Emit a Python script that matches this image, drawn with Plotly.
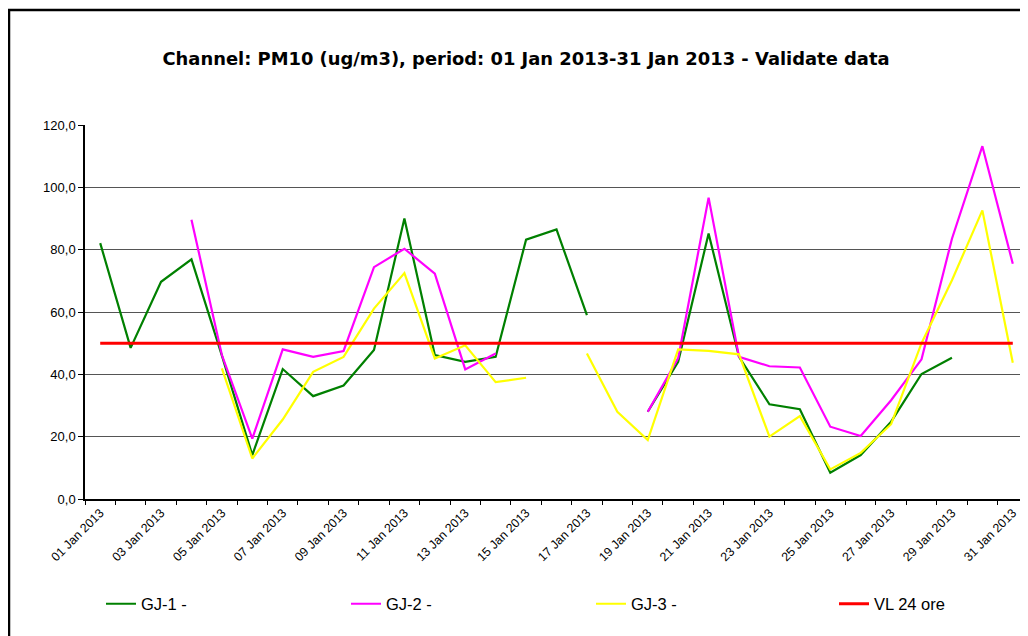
import plotly.graph_objects as go

days = [f"2013-01-{d:02d}" for d in range(1, 32)]

gj1 = [82.1, 48.5, 69.7, 76.9, 46.0, 14.1, 41.7, 33.0, 36.4, 47.8,
       90.0, 46.2, 44.0, 45.6, 83.2, 86.5, 59.0, None, 28.0, 44.0,
       85.2, 45.6, 30.4, 28.8, 8.4, 14.1, 24.8, 40.1, 45.3, None, None]
gj2 = [None, None, None, 89.6, 46.2, 19.4, 48.0, 45.6, 47.5, 74.4,
       80.3, 72.3, 41.6, 46.7, None, None, None, None, 28.0, 45.2,
       96.7, 45.6, 42.6, 42.2, 23.2, 20.2, 31.7, 44.8, 83.5, 113.2, 75.5]
gj3 = [None, None, None, None, 41.9, 13.0, 25.5, 40.8, 45.6, 61.1,
       72.5, 45.1, 49.3, 37.5, 38.9, None, 46.7, 28.0, 18.9, 48.0,
       47.5, 46.4, 20.0, 26.6, 9.5, 14.8, 24.0, 50.0, 70.2, 92.6, 43.7]
vl = [50.0] * 31

names = ["GJ-1 -", "GJ-2 -", "GJ-3 -", "VL 24 ore"]
colors = ["#008000", "#FF00FF", "#FFFF00", "#FF0000"]
widths = [2.2, 2.2, 2.2, 3]
series = [gj1, gj2, gj3, vl]
legend_ids = ["legend", "legend2", "legend3", "legend4"]

# page body has an 8px margin; work in screen coords and convert
OFF = 8
W, H = 1028 - OFF, 636 - OFF
L, T, R, B = 85 - OFF, 125 - OFF, 1028 - OFF, 499 - OFF
pw, ph = R - L, B - T

def px_x(p):
    return (p - OFF - L) / pw

def px_y(p):
    return (B - (p - OFF)) / ph

fig = go.Figure()
for n, s, c, w, lg in zip(names, series, colors, widths, legend_ids):
    fig.add_trace(go.Scatter(x=days, y=s, mode="lines", name=n, legend=lg,
                             line=dict(color=c, width=w), connectgaps=False))

legend_starts = [107, 352, 597, 840]
legend_layout = {}
for lg, sx in zip(legend_ids, legend_starts):
    legend_layout[lg] = dict(x=px_x(sx - 6), y=px_y(604), xanchor="left", yanchor="middle",
                             orientation="h",
                             font=dict(family="Liberation Sans", size=16.5, color="black"),
                             bgcolor="rgba(0,0,0,0)")

fig.update_layout(
    width=W, height=H,
    margin=dict(l=L, r=W - R, t=T, b=H - B, pad=0),
    paper_bgcolor="white", plot_bgcolor="white",
    separators=",.",
    title=dict(text="<b>Channel: PM10 (ug/m3), period: 01 Jan 2013-31 Jan 2013 - Validate data</b>",
               x=(526 - OFF) / W, xanchor="center", y=1 - (59 - OFF) / H, yanchor="middle",
               font=dict(family="DejaVu Sans", size=17.9, color="black")),
    font=dict(family="Liberation Sans", color="black"),
    showlegend=True,
    xaxis=dict(type="date",
               range=["2012-12-31 12:00", "2013-01-31 12:00"],
               tickvals=[d for i, d in enumerate(days) if i % 2 == 0],
               tickformat="%d %b %Y", tickangle=-45,
               tickfont=dict(family="Liberation Sans", size=12.4, color="black"),
               ticks="", showgrid=False, zeroline=False,
               showline=True, linecolor="black", linewidth=1.5,
               minor=dict(ticks="outside", ticklen=4, tickcolor="black",
                          tick0="2013-01-01 12:00", dtick=86400000, showgrid=False)),
    yaxis=dict(range=[0, 120], tickvals=[0, 20, 40, 60, 80, 100, 120],
               tickformat=".1f", ticks="outside", ticklen=5, tickcolor="black",
               tickfont=dict(family="Liberation Sans", size=13, color="black"),
               showgrid=True, gridcolor="#555555", gridwidth=1,
               zeroline=False, showline=True, linecolor="black", linewidth=1.5),
    shapes=[dict(type="rect", xref="paper", yref="paper",
                 x0=px_x(9), x1=px_x(1045), y0=px_y(660), y1=px_y(10),
                 line=dict(color="black", width=2.5), fillcolor="rgba(0,0,0,0)",
                 layer="above")],
    **legend_layout,
)

fig.write_html("out.html")
